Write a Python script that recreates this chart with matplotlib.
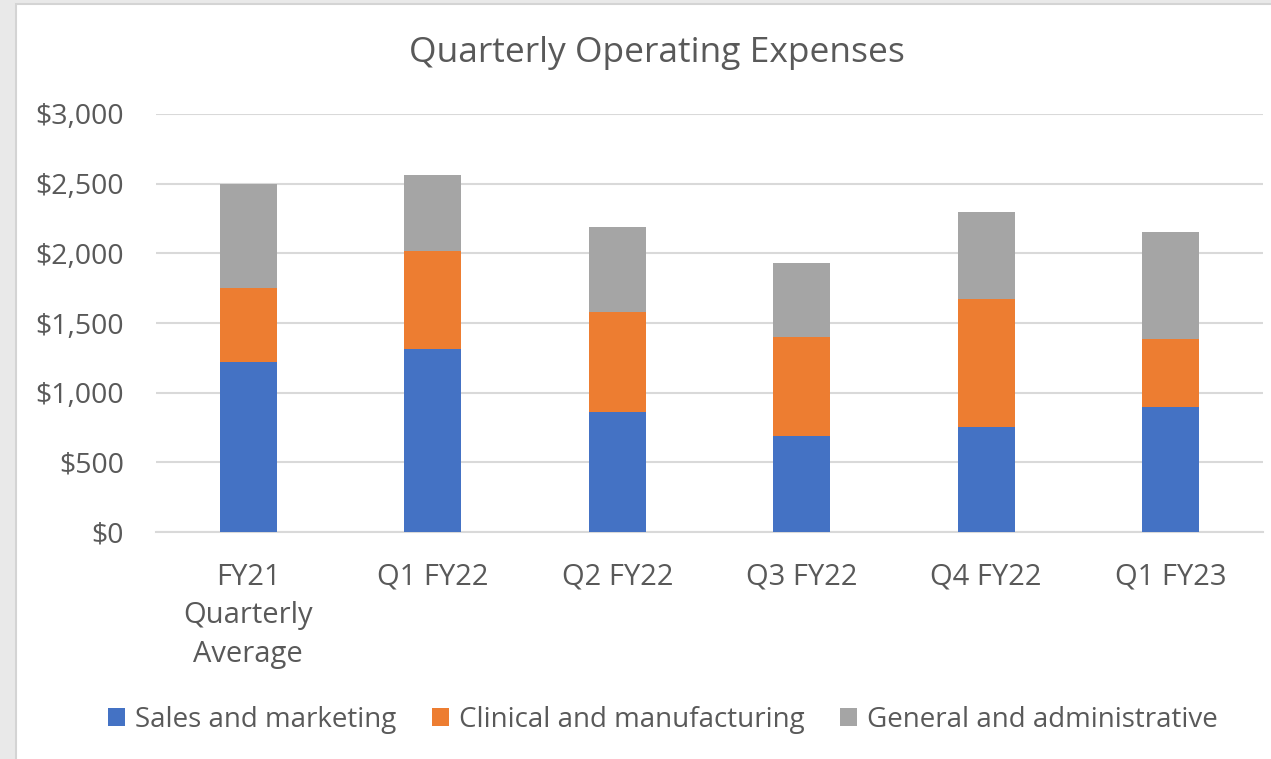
import matplotlib.pyplot as plt
from matplotlib.patches import Rectangle
import numpy as np

categories = ["FY21\nQuarterly\nAverage", "Q1 FY22", "Q2 FY22", "Q3 FY22", "Q4 FY22", "Q1 FY23"]
sales_marketing = [1223, 1314, 861, 691, 753, 894]
clinical_manufacturing = [530, 705, 717, 705, 918, 490]
general_admin = [748, 542, 614, 532, 624, 767]

series_names = ["Sales and marketing", "Clinical and manufacturing", "General and administrative"]
colors = ["#4472C4", "#ED7D31", "#A5A5A5"]
text_color = "#595959"

plt.rcParams['font.family'] = ['Open Sans', 'DejaVu Sans']

W, H = 1271, 759
fig = plt.figure(figsize=(W / 100, H / 100), dpi=100, facecolor="#e9e9e9")

# white chart area like a spreadsheet screenshot
fig.patches.append(Rectangle((16 / W, -0.01), 1.0, (H - 4) / H + 0.01, transform=fig.transFigure,
                             facecolor="white", edgecolor="#d4d4d4", linewidth=1.5, zorder=-5))

ax = fig.add_axes([156 / W, (H - 532) / H, (1263 - 156) / W, (532 - 114) / H])
ax.set_facecolor("none")

x = np.arange(len(categories))
width = 0.31
bottom = np.zeros(len(categories))
for vals, name, c in zip([sales_marketing, clinical_manufacturing, general_admin], series_names, colors):
    ax.bar(x, vals, width, bottom=bottom, color=c, label=name, zorder=3)
    bottom += np.array(vals)

ax.set_xlim(-0.5, len(categories) - 0.5)
ax.set_ylim(0, 3000)
ax.set_yticks(range(0, 3001, 500))
ax.set_yticklabels(["${:,}".format(v) for v in range(0, 3001, 500)])
ax.set_xticks(x)
ax.set_xticklabels(categories, linespacing=1.45)

ax.grid(axis="y", color="#d9d9d9", linewidth=1.5, zorder=0)
for s in ["top", "right", "left"]:
    ax.spines[s].set_visible(False)
ax.spines["bottom"].set_color("#d9d9d9")
ax.spines["bottom"].set_linewidth(1.5)
ax.tick_params(axis="both", length=0, colors=text_color)
ax.tick_params(axis="x", pad=22, labelsize=21)
ax.tick_params(axis="y", pad=23, labelsize=20.5)

fig.text(657 / W, (H - 53) / H, "Quarterly Operating Expenses", ha="center", va="center",
         fontsize=25.5, color=text_color)

leg = fig.legend(loc="center", bbox_to_anchor=(663 / W, (H - 720) / H), ncol=3, frameon=False,
                 fontsize=20, handlelength=0.6, handleheight=0.6, handletextpad=0.35,
                 columnspacing=1.3)
for t in leg.get_texts():
    t.set_color(text_color)

fig.savefig("out.png", dpi=100, facecolor=fig.get_facecolor())
